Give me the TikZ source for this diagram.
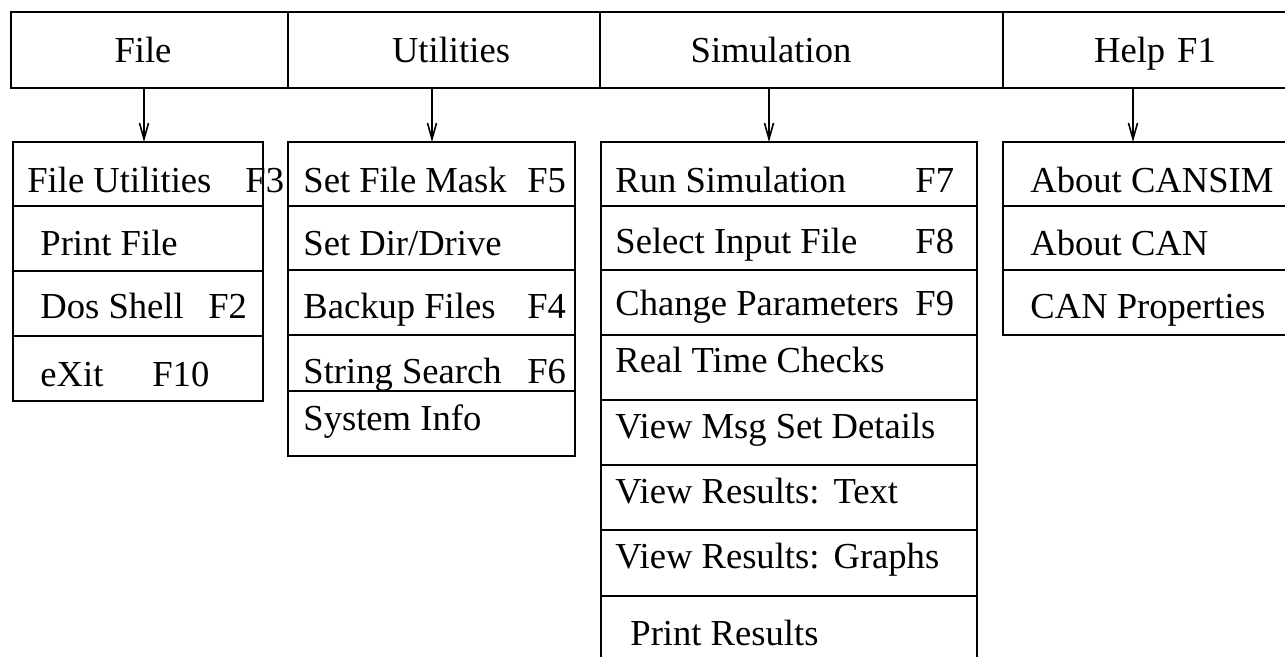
\documentclass[tikz,border=0pt]{standalone}
\usepackage{fontspec}
\setmainfont{Liberation Serif}
\usetikzlibrary{arrows.meta}

\tikzset{
  cell/.style={draw, line width=1pt, rectangle, inner sep=0pt, outer sep=0pt},
  item/.style={anchor=base west, inner sep=0pt, font=\fontsize{18.3}{21}\selectfont},
  title/.style={anchor=base, inner sep=0pt, font=\fontsize{18.3}{21}\selectfont},
  arr/.style={line width=1pt, -{Straight Barb[length=8pt,width=4.5pt,line width=0.8pt]}},
}

% \menucell{name}{x1}{y1}{x2}{y2}  -- a framed cell given by its corners
\newcommand\menucell[5]{%
  \node[cell, minimum width={(#4-#2)*0.5pt}, minimum height={(#5-#3)*0.5pt}]
    (#1) at ({(#2+#4)/2},{(#3+#5)/2}) {};}
% \menuitem{name}{x1}{y1}{x2}{y2}{text x}{baseline}{text}
\newcommand\menuitem[8]{%
  \menucell{#1}{#2}{#3}{#4}{#5}%
  \node[item] (#1-t) at (#6,#7) {#8};}

\begin{document}
\begin{tikzpicture}[x=0.5pt, y=-0.5pt]
\useasboundingbox (0,0) rectangle (1285,657);
\clip (0,0) rectangle (1285,657);

% menu bar
\menucell{hFile}{11}{12}{288}{88}
\menucell{hUtil}{288}{12}{600}{88}
\menucell{hSim}{600}{12}{1003}{88}
\menucell{hHelp}{1003}{12}{1310}{88}
\node[title] (hFile-t) at (143,63) {File};
\node[title] (hUtil-t) at (451,63) {Utilities};
\node[title] (hSim-t)  at (771,63) {Simulation};
\node[title] (hHelp-t) at (1155,63) {Help\hspace{6pt}F1};

% File menu
\menuitem{f1}{13}{142}{263}{206}{27}{193}{\makebox[109pt][l]{File Utilities}F3}
\menuitem{f2}{13}{206}{263}{271}{40}{256}{Print File}
\menuitem{f3}{13}{271}{263}{336}{40}{319}{\makebox[84pt][l]{Dos Shell}F2}
\menuitem{f4}{13}{336}{263}{401}{40}{387}{\makebox[56pt][l]{eXit}F10}

% Utilities menu
\menuitem{u1}{288}{142}{575}{206}{303}{193}{\makebox[112pt][l]{Set File Mask}F5}
\menuitem{u2}{288}{206}{575}{270}{303}{256}{Set Dir/Drive}
\menuitem{u3}{288}{270}{575}{335}{303}{319}{\makebox[112pt][l]{Backup Files}F4}
\menuitem{u4}{288}{335}{575}{391}{303}{384}{\makebox[112pt][l]{String Search}F6}
\menuitem{u5}{288}{391}{575}{456}{303}{430}{System Info}

% Simulation menu
\menuitem{s1}{601}{142}{977}{206}{615}{193}{\makebox[150pt][l]{Run Simulation}F7}
\menuitem{s2}{601}{206}{977}{270}{615}{254}{\makebox[150pt][l]{Select Input File}F8}
\menuitem{s3}{601}{270}{977}{335}{615}{316}{\makebox[150pt][l]{Change Parameters}F9}
\menuitem{s4}{601}{335}{977}{400}{615}{373}{Real Time Checks}
\menuitem{s5}{601}{400}{977}{465}{615}{438}{View Msg Set Details}
\menuitem{s6}{601}{465}{977}{530}{615}{503}{View Results:\hspace{7pt}Text}
\menuitem{s7}{601}{530}{977}{596}{615}{568}{View Results:\hspace{7pt}Graphs}
\menuitem{s8}{601}{596}{977}{700}{630}{645}{Print Results}

% Help menu
\menuitem{h1}{1003}{142}{1310}{206}{1030}{193}{About CANSIM}
\menuitem{h2}{1003}{206}{1310}{270}{1030}{256}{About CAN}
\menuitem{h3}{1003}{270}{1310}{335}{1030}{319}{CAN Properties}

% drop-down connectors
\coordinate (aFile) at (144,0);
\coordinate (aUtil) at (432,0);
\coordinate (aSim)  at (769,0);
\coordinate (aHelp) at (1133,0);
\draw[arr] (hFile.south -| aFile) -- (aFile |- f1.north);
\draw[arr] (hUtil.south -| aUtil) -- (aUtil |- u1.north);
\draw[arr] (hSim.south -| aSim) -- (aSim |- s1.north);
\draw[arr] (hHelp.south -| aHelp) -- (aHelp |- h1.north);
\end{tikzpicture}
\end{document}
